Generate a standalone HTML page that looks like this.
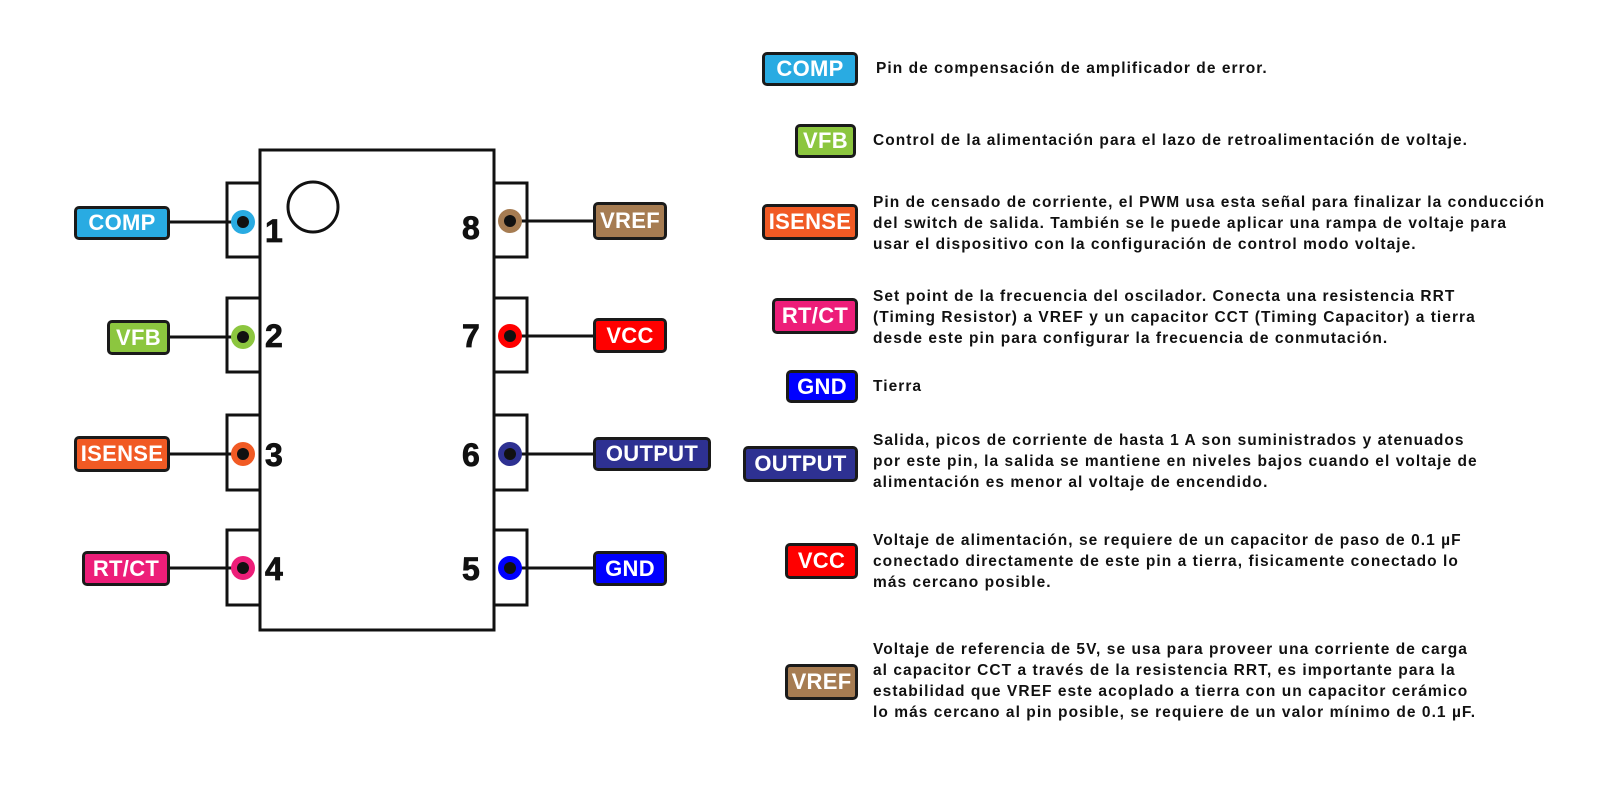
<!DOCTYPE html>
<html><head><meta charset="utf-8"><style>
body{margin:0;width:1600px;height:800px;background:#fff;position:relative;overflow:hidden;font-family:"Liberation Sans",sans-serif;}
.b{position:absolute;border:3px solid #1a1a1a;border-radius:5px;color:#fff;font-weight:bold;font-size:22px;display:flex;align-items:center;justify-content:center;box-sizing:border-box;letter-spacing:0.3px;white-space:nowrap}
.t{position:absolute;left:873px;font-weight:bold;font-size:15.5px;letter-spacing:1.05px;line-height:21px;color:#111;white-space:nowrap}
</style></head><body>
<svg width="1600" height="800" style="position:absolute;left:0;top:0">
<g stroke="#111" stroke-width="3" fill="none">
<rect x="260" y="150" width="234" height="480"/>
<circle cx="313" cy="207" r="25"/>
<rect x="227" y="183" width="33" height="74"/><rect x="227" y="298" width="33" height="74"/>
<rect x="227" y="415" width="33" height="75"/><rect x="227" y="530" width="33" height="75"/>
<rect x="494" y="183" width="33" height="74"/><rect x="494" y="298" width="33" height="74"/>
<rect x="494" y="415" width="33" height="75"/><rect x="494" y="530" width="33" height="75"/>
<line x1="170" y1="222" x2="243" y2="222"/><line x1="170" y1="337" x2="243" y2="337"/>
<line x1="170" y1="454" x2="243" y2="454"/><line x1="170" y1="568" x2="243" y2="568"/>
<line x1="510" y1="221" x2="593" y2="221"/><line x1="510" y1="336" x2="593" y2="336"/>
<line x1="510" y1="454" x2="593" y2="454"/><line x1="510" y1="568" x2="593" y2="568"/>
</g>
<g>
<circle cx="243" cy="222" r="12" fill="#29abe2"/><circle cx="243" cy="222" r="6" fill="#111"/>
<circle cx="243" cy="337" r="12" fill="#8cc63f"/><circle cx="243" cy="337" r="6" fill="#111"/>
<circle cx="243" cy="454" r="12" fill="#f15a24"/><circle cx="243" cy="454" r="6" fill="#111"/>
<circle cx="243" cy="568" r="12" fill="#ed1e79"/><circle cx="243" cy="568" r="6" fill="#111"/>
<circle cx="510" cy="221" r="12" fill="#a67c52"/><circle cx="510" cy="221" r="6" fill="#111"/>
<circle cx="510" cy="336" r="12" fill="#ff0000"/><circle cx="510" cy="336" r="6" fill="#111"/>
<circle cx="510" cy="454" r="12" fill="#2e3192"/><circle cx="510" cy="454" r="6" fill="#111"/>
<circle cx="510" cy="568" r="12" fill="#0000ff"/><circle cx="510" cy="568" r="6" fill="#111"/>
</g>
<g font-family="Liberation Sans, sans-serif" font-weight="bold" font-size="32" fill="#111" stroke="#111" stroke-width="0.8">
<text x="265" y="242">1</text><text x="265" y="347">2</text><text x="265" y="466">3</text><text x="265" y="580">4</text>
<text x="462" y="239">8</text><text x="462" y="347">7</text><text x="462" y="466">6</text><text x="462" y="580">5</text>
</g>
</svg>
<div class="b" style="left:74px;top:206px;width:96px;height:34px;background:#29abe2">COMP</div>
<div class="b" style="left:107px;top:320px;width:63px;height:35px;background:#8cc63f">VFB</div>
<div class="b" style="left:74px;top:436px;width:96px;height:36px;background:#f15a24">ISENSE</div>
<div class="b" style="left:82px;top:551px;width:88px;height:35px;background:#ed1e79">RT/CT</div>
<div class="b" style="left:593px;top:202px;width:74px;height:38px;background:#a67c52">VREF</div>
<div class="b" style="left:593px;top:318px;width:74px;height:35px;background:#ff0000">VCC</div>
<div class="b" style="left:593px;top:437px;width:118px;height:34px;background:#2e3192">OUTPUT</div>
<div class="b" style="left:593px;top:551px;width:74px;height:35px;background:#0000ff">GND</div>

<div class="b" style="left:762px;top:52px;width:96px;height:34px;background:#29abe2">COMP</div>
<div class="b" style="left:795px;top:124px;width:61px;height:34px;background:#8cc63f">VFB</div>
<div class="b" style="left:762px;top:204px;width:96px;height:36px;background:#f15a24">ISENSE</div>
<div class="b" style="left:772px;top:298px;width:86px;height:36px;background:#ed1e79">RT/CT</div>
<div class="b" style="left:786px;top:370px;width:72px;height:33px;background:#0000ff">GND</div>
<div class="b" style="left:743px;top:446px;width:115px;height:36px;background:#2e3192">OUTPUT</div>
<div class="b" style="left:785px;top:543px;width:73px;height:36px;background:#ff0000">VCC</div>
<div class="b" style="left:785px;top:664px;width:73px;height:36px;background:#a67c52">VREF</div>

<div class="t" style="top:58px;left:876px">Pin de compensación de amplificador de error.</div>
<div class="t" style="top:130px">Control de la alimentación para el lazo de retroalimentación de voltaje.</div>
<div class="t" style="top:192px">Pin de censado de corriente, el PWM usa esta señal para finalizar la conducción<br>del switch de salida. También se le puede aplicar una rampa de voltaje para<br>usar el dispositivo con la configuración de control modo voltaje.</div>
<div class="t" style="top:286px">Set point de la frecuencia del oscilador. Conecta una resistencia RRT<br>(Timing Resistor) a VREF y un capacitor CCT (Timing Capacitor) a tierra<br>desde este pin para configurar la frecuencia de conmutación.</div>
<div class="t" style="top:376px">Tierra</div>
<div class="t" style="top:430px">Salida, picos de corriente de hasta 1 A son suministrados y atenuados<br>por este pin, la salida se mantiene en niveles bajos cuando el voltaje de<br>alimentación es menor al voltaje de encendido.</div>
<div class="t" style="top:530px">Voltaje de alimentación, se requiere de un capacitor de paso de 0.1 µF<br>conectado directamente de este pin a tierra, fisicamente conectado lo<br>más cercano posible.</div>
<div class="t" style="top:639px">Voltaje de referencia de 5V, se usa para proveer una corriente de carga<br>al capacitor CCT a través de la resistencia RRT, es importante para la<br>estabilidad que VREF este acoplado a tierra con un capacitor cerámico<br>lo más cercano al pin posible, se requiere de un valor mínimo de 0.1 µF.</div>
</body></html>
